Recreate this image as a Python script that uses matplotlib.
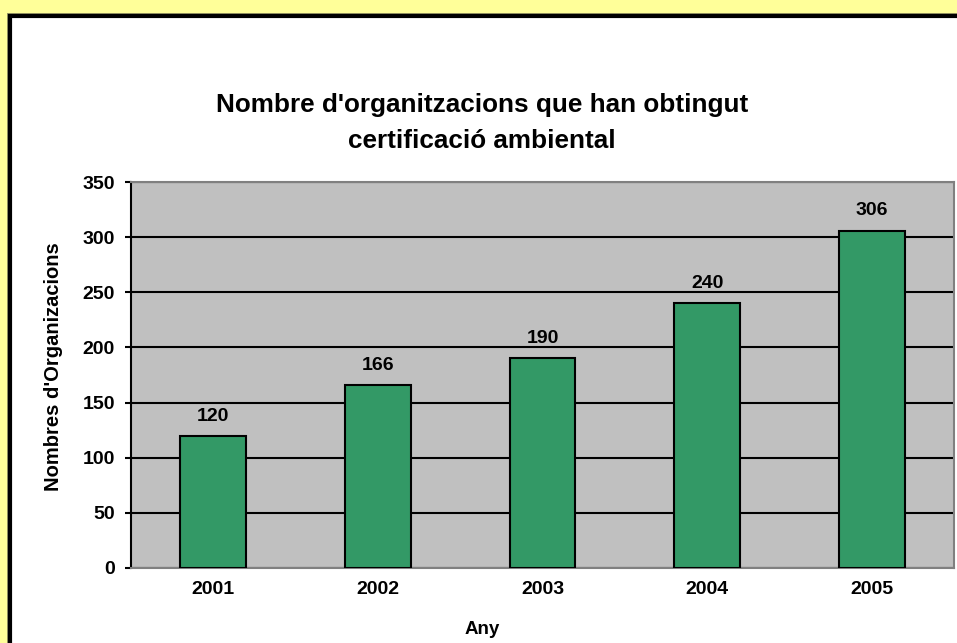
import matplotlib
matplotlib.use("Agg")
import matplotlib.pyplot as plt
from matplotlib.patches import Rectangle

years = ["2001", "2002", "2003", "2004", "2005"]
organitzacions = [120, 166, 190, 240, 306]
y_ticks = [0, 50, 100, 150, 200, 250, 300, 350]

title = "Nombre d'organitzacions que han obtingut\ncertificació ambiental"
x_label = "Any"
y_label = "Nombres d'Organizacions"

W, H = 957, 643
plt.rcParams['font.family'] = ['Liberation Sans', 'DejaVu Sans']

fig = plt.figure(figsize=(W / 100, H / 100), dpi=100)
fig.patch.set_facecolor('#FFFF99')

# white chart box with shadow and black border
fig.patches.append(Rectangle((7 / W, -0.1), 1.2, (H - 13) / H + 0.1, transform=fig.transFigure,
                             facecolor='#999966', edgecolor='none', zorder=0))
fig.patches.append(Rectangle((9.5 / W, -0.1), 1.2, (H - 15.5) / H + 0.1, transform=fig.transFigure,
                             facecolor='white', edgecolor='black', linewidth=3, zorder=1))

ax = fig.add_axes([131 / W, (H - 568) / H, 823 / W, 386 / H])
ax.set_zorder(2)
ax.set_facecolor('#C0C0C0')

x = range(len(years))
bars = ax.bar(x, organitzacions, width=0.4, color='#339966', edgecolor='black', linewidth=1.5, zorder=3)

ax.set_xlim(-0.5, len(years) - 0.5)
ax.set_ylim(0, 350)
ax.set_yticks(y_ticks)
ax.set_yticklabels([str(v) for v in y_ticks], fontsize=14, fontweight='bold')
ax.set_xticks(list(x))
ax.set_xticklabels(years, fontsize=14, fontweight='bold')
ax.tick_params(axis='x', length=0, pad=9.5)
ax.tick_params(axis='y', length=4.5, width=1.5, pad=7, direction='out')

ax.yaxis.grid(True, color='black', linewidth=1.5, zorder=1)
ax.set_axisbelow(True)

for side in ['top', 'right', 'bottom']:
    ax.spines[side].set_color('#808080')
    ax.spines[side].set_linewidth(1.5)
ax.spines['left'].set_color('black')
ax.spines['left'].set_linewidth(1.5)

for b, v in zip(bars, organitzacions):
    ax.annotate(str(v), (b.get_x() + b.get_width() / 2, v), xytext=(0, 8), textcoords='offset points',
                ha='center', va='bottom', fontsize=14, fontweight='bold')

fig.text(482 / W, 1 - 123 / H, title, ha='center', va='center', fontsize=18.8, fontweight='bold',
         linespacing=1.6, zorder=5)
fig.text(482 / W, 1 - 630 / H, x_label, ha='center', va='center', fontsize=13.5, fontweight='bold', zorder=5)
fig.text(54 / W, 1 - 367 / H, y_label, ha='center', va='center', rotation=90, fontsize=14.5,
         fontweight='bold', zorder=5)

fig.savefig('out.png', dpi=100, facecolor=fig.get_facecolor())
